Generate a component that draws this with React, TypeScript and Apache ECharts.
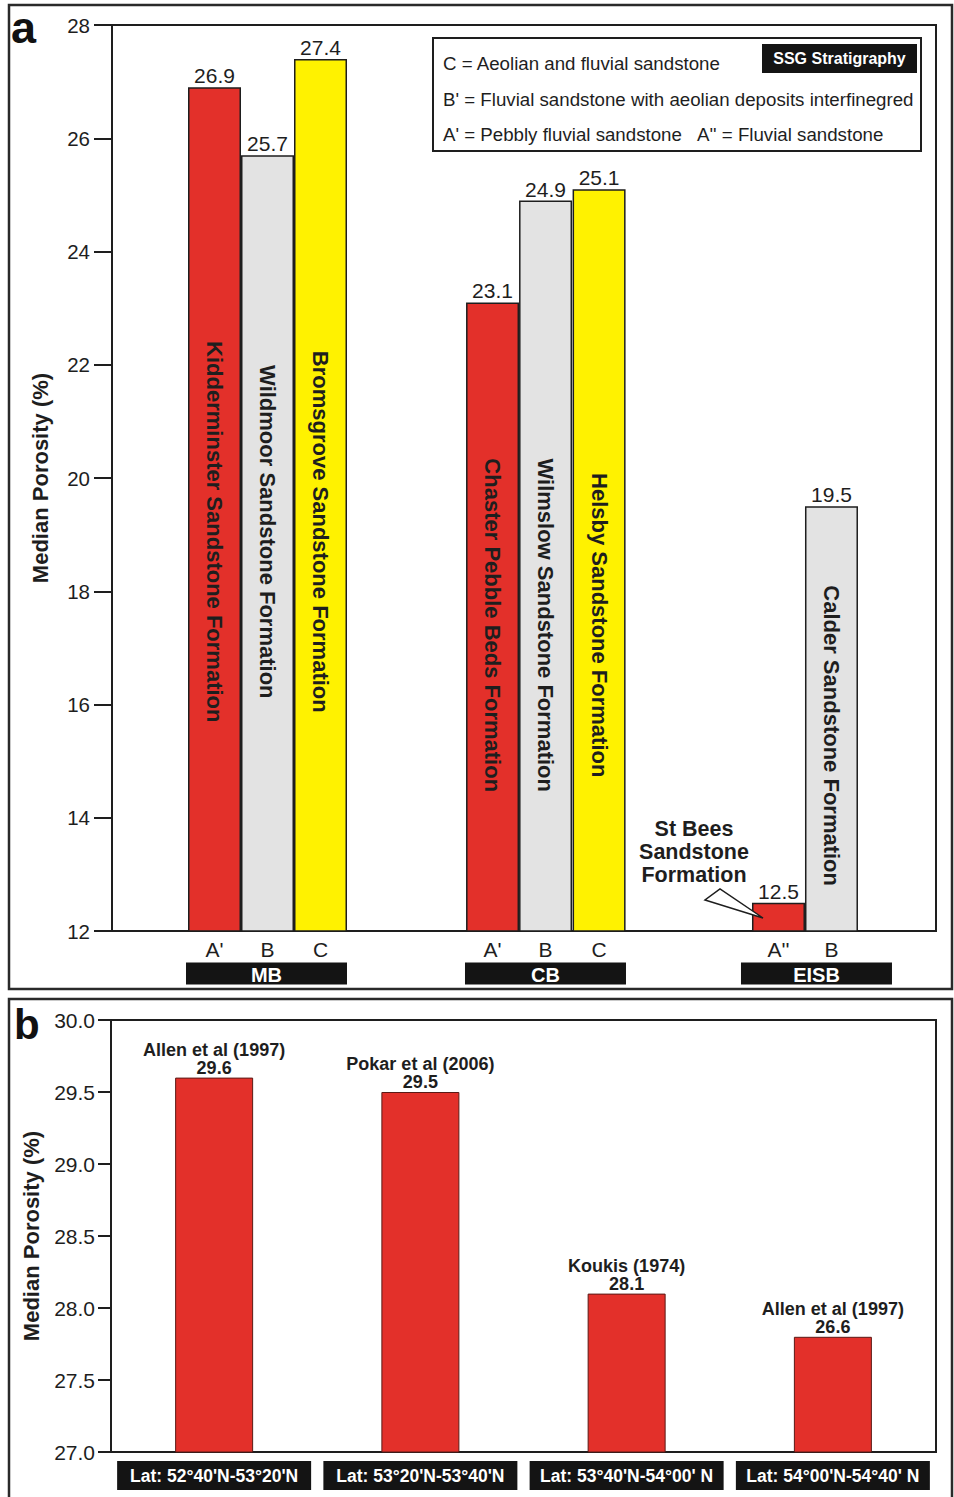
import React, { useEffect, useRef } from 'react';
import * as echarts from 'echarts';

// ---------- Data (panel a) ----------
const formationNames = [
  'Kidderminster Sandstone Formation',
  'Wildmoor Sandstone Formation',
  'Bromsgrove Sandstone Formation',
  'Chaster Pebble Beds Formation',
  'Wilmslow Sandstone Formation',
  'Helsby Sandstone Formation',
  'St Bees Sandstone Formation',
  'Calder Sandstone Formation',
];
const formationCodes = ["A'", 'B', 'C', "A'", 'B', 'C', "A''", 'B'];
const medianPorosityA = [26.9, 25.7, 27.4, 23.1, 24.9, 25.1, 12.5, 19.5];
const basins = ['MB', 'CB', 'EISB'];
const yAxisA = { min: 12, max: 28, interval: 2 };

// ---------- Data (panel b) ----------
const latitudeBands = [
  "Lat: 52°40'N-53°20'N",
  "Lat: 53°20'N-53°40'N",
  "Lat: 53°40'N-54°00' N",
  "Lat: 54°00'N-54°40' N",
];
const studies = ['Allen et al (1997)', 'Pokar et al (2006)', 'Koukis (1974)', 'Allen et al (1997)'];
const medianPorosityB = [29.6, 29.5, 28.1, 27.8];
const printedValuesB = ['29.6', '29.5', '28.1', '26.6'];
const yAxisB = { min: 27, max: 30, interval: 0.5 };

// ---------- Layout (not data) ----------
const X_MAX_A = 15.547; // x extent of panel a in bar-width units
const xPosA = [1.934, 2.934, 3.934, 7.18, 8.18, 9.19, 12.575, 13.575];
const nameCenterA = [19.05, 19.05, 19.05, 17.4, 17.4, 17.4, null, 15.45];
const basinBoxX = [2.915, 8.179, 13.292];
const basinBoxW = [161, 161, 151];

const FONT = '"Liberation Sans", Arial, Helvetica, sans-serif';
const INK = '#1e1e1e';
const RED = '#e3302a';
const GRAY = '#e3e3e3';
const YELLOW = '#fff200';
const BOX = '#141414';

const codeColor = (c: string) => (c.startsWith('A') ? RED : c === 'B' ? GRAY : YELLOW);

const hiddenPoint = {
  type: 'scatter',
  xAxisIndex: 0,
  yAxisIndex: 0,
  clip: false,
  symbol: 'rect',
  symbolSize: 1,
  itemStyle: { color: 'rgba(0,0,0,0)', opacity: 1 },
  silent: true,
};

export default function App() {
  const ref = useRef<HTMLDivElement>(null);

  useEffect(() => {
    document.body.style.margin = '0';
    const chart = echarts.init(ref.current!, null, { renderer: 'svg' });

    const option: any = {
      animation: false,
      backgroundColor: '#ffffff',
      textStyle: { fontFamily: FONT },
      grid: [
        { left: 112, top: 25, width: 824, height: 906, show: true, borderColor: INK, borderWidth: 2 },
        { left: 111, top: 1020, width: 825, height: 432, show: true, borderColor: INK, borderWidth: 2 },
      ],
      xAxis: [
        { gridIndex: 0, type: 'value', min: 0, max: X_MAX_A, show: false },
        {
          gridIndex: 1,
          type: 'category',
          data: latitudeBands,
          axisLine: { lineStyle: { color: INK, width: 2 } },
          axisTick: { show: false },
          axisLabel: {
            interval: 0,
            margin: 9,
            color: '#ffffff',
            backgroundColor: BOX,
            width: 194,
            height: 29,
            lineHeight: 30,
            align: 'center',
            fontFamily: FONT,
            fontWeight: 'bold',
            fontSize: 17.5,
          },
        },
      ],
      yAxis: [
        {
          gridIndex: 0,
          type: 'value',
          min: yAxisA.min,
          max: yAxisA.max,
          interval: yAxisA.interval,
          axisLine: { show: true, lineStyle: { color: INK, width: 2 } },
          axisTick: { show: true, length: 18, lineStyle: { color: INK, width: 2 } },
          axisLabel: { color: INK, fontSize: 20.5, margin: 22, fontFamily: FONT },
          splitLine: { show: false },
          name: 'Median Porosity (%)',
          nameLocation: 'middle',
          nameGap: 61,
          nameTextStyle: { fontSize: 22, fontWeight: 'bold', color: INK, fontFamily: FONT },
        },
        {
          gridIndex: 1,
          type: 'value',
          min: yAxisB.min,
          max: yAxisB.max,
          interval: yAxisB.interval,
          axisLine: { show: true, lineStyle: { color: INK, width: 2 } },
          axisTick: { show: true, length: 13, lineStyle: { color: INK, width: 2 } },
          axisLabel: {
            color: INK,
            fontSize: 21,
            margin: 16,
            fontFamily: FONT,
            formatter: (v: number) => v.toFixed(1),
          },
          splitLine: { show: false },
          name: 'Median Porosity (%)',
          nameLocation: 'middle',
          nameGap: 69,
          nameTextStyle: { fontSize: 22, fontWeight: 'bold', color: INK, fontFamily: FONT },
        },
      ],
      series: [
        {
          type: 'bar',
          xAxisIndex: 0,
          yAxisIndex: 0,
          barWidth: 53,
          data: medianPorosityA.map((v, i) => ({
            value: [xPosA[i], v],
            itemStyle: { color: codeColor(formationCodes[i]) },
          })),
          itemStyle: { borderColor: INK, borderWidth: 1.5 },
          label: {
            show: true,
            position: 'top',
            distance: 1,
            fontSize: 21,
            color: INK,
            fontFamily: FONT,
            formatter: (p: any) => p.value[1].toFixed(1),
          },
        },
        {
          // formation names written inside the bars
          ...hiddenPoint,
          data: formationNames
            .map((n, i) => (nameCenterA[i] == null ? null : { name: n, value: [xPosA[i], nameCenterA[i]] }))
            .filter(Boolean),
          label: {
            show: true,
            position: 'inside',
            rotate: -90,
            formatter: '{b}',
            fontSize: 22,
            fontWeight: 'bold',
            color: INK,
            fontFamily: FONT,
          },
        },
        {
          // formation codes under the bars
          ...hiddenPoint,
          data: formationCodes.map((c, i) => ({ name: c, value: [xPosA[i], yAxisA.min] })),
          label: {
            show: true,
            position: 'bottom',
            distance: 7,
            formatter: '{b}',
            fontSize: 21,
            color: INK,
            fontFamily: FONT,
          },
        },
        {
          // basin boxes
          ...hiddenPoint,
          data: basins.map((b, i) => ({
            name: b,
            value: [basinBoxX[i], yAxisA.min],
            label: { width: basinBoxW[i] },
          })),
          label: {
            show: true,
            position: 'bottom',
            distance: 31,
            formatter: '{b}',
            backgroundColor: BOX,
            height: 22,
            lineHeight: 24,
            align: 'center',
            fontSize: 20,
            fontWeight: 'bold',
            color: '#ffffff',
            fontFamily: FONT,
          },
        },
        {
          type: 'bar',
          xAxisIndex: 1,
          yAxisIndex: 1,
          barWidth: 78,
          data: medianPorosityB,
          itemStyle: { color: RED, borderColor: '#5a1a16', borderWidth: 1 },
          label: {
            show: true,
            position: 'top',
            distance: 1,
            formatter: (p: any) => `{t|${studies[p.dataIndex]}}\n{v|${printedValuesB[p.dataIndex]}}`,
            rich: {
              t: { fontSize: 18, fontWeight: 'bold', color: INK, lineHeight: 18, fontFamily: FONT },
              v: { fontSize: 18, fontWeight: 'bold', color: INK, lineHeight: 18, fontFamily: FONT },
            },
          },
        },
      ],
      graphic: [
        // outer frames
        { type: 'rect', shape: { x: 9, y: 5, width: 943, height: 984 }, style: { fill: 'none', stroke: '#2a2a2a', lineWidth: 2.5 }, silent: true },
        { type: 'rect', shape: { x: 9, y: 999, width: 943, height: 510 }, style: { fill: 'none', stroke: '#2a2a2a', lineWidth: 2.5 }, silent: true },
        // panel letters
        { type: 'text', x: 11, y: 27, style: { text: 'a', font: `bold 45px ${FONT}`, fill: '#111', verticalAlign: 'middle', align: 'left' } },
        { type: 'text', x: 14, y: 1024, style: { text: 'b', font: `bold 42px ${FONT}`, fill: '#111', verticalAlign: 'middle', align: 'left' } },
        // legend box
        { type: 'rect', shape: { x: 433, y: 38, width: 488, height: 113 }, style: { fill: '#fff', stroke: INK, lineWidth: 2 } },
        { type: 'rect', shape: { x: 762, y: 44, width: 155, height: 29 }, style: { fill: BOX } },
        { type: 'text', x: 839.5, y: 58.5, style: { text: 'SSG Stratigraphy', font: `bold 16px ${FONT}`, fill: '#fff', align: 'center', verticalAlign: 'middle' } },
        { type: 'text', x: 443, y: 63, style: { text: 'C = Aeolian and fluvial sandstone', font: `18.7px ${FONT}`, fill: INK, verticalAlign: 'middle' } },
        { type: 'text', x: 443, y: 99, style: { text: "B' = Fluvial sandstone with aeolian deposits interfinegred", font: `18.7px ${FONT}`, fill: INK, verticalAlign: 'middle' } },
        { type: 'text', x: 443, y: 134, style: { text: "A' = Pebbly fluvial sandstone", font: `18.7px ${FONT}`, fill: INK, verticalAlign: 'middle' } },
        { type: 'text', x: 697, y: 134, style: { text: "A'' = Fluvial sandstone", font: `18.7px ${FONT}`, fill: INK, verticalAlign: 'middle' } },
        // St Bees annotation
        {
          type: 'text',
          x: 694,
          y: 852,
          style: {
            text: 'St Bees\nSandstone\nFormation',
            font: `bold 21.5px ${FONT}`,
            lineHeight: 23,
            fill: INK,
            align: 'center',
            verticalAlign: 'middle',
          },
        },
        {
          type: 'polygon',
          shape: { points: [[705, 900], [763, 918], [720, 889]] },
          style: { fill: '#ffffff', stroke: INK, lineWidth: 1.5 },
          z: 100,
        },
      ],
    };

    chart.setOption(option);
    return () => chart.dispose();
  }, []);

  return <div ref={ref} style={{ width: 954, height: 1497, position: 'absolute', left: 0, top: 0 }} />;
}
